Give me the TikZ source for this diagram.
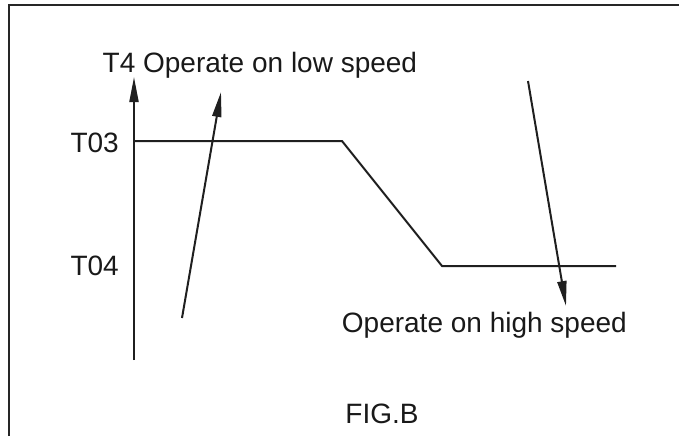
\documentclass[tikz,border=0pt]{standalone}
\usepackage{fontspec}
\setmainfont{Liberation Sans}
\usetikzlibrary{arrows.meta}
\begin{document}
\begin{tikzpicture}[x=1pt,y=-1pt,
  lbl/.style={inner sep=0pt,font=\fontsize{28}{30}\selectfont,text=black!90},
  ln/.style={line width=2pt,draw=black!88},
  arr/.style={ln,-{Triangle[length=25pt,width=9pt]}}]
\useasboundingbox (0,0) rectangle (679,436);
% frame (cropped)
\coordinate (fTL) at (9,5);
\coordinate (fTR) at (679,5);
\coordinate (fBL) at (9,436);
\draw[line width=2pt,draw=black!85] (fBL) -- (fTL) -- (fTR);
% axis
\coordinate (ax0) at (134,360);
\coordinate (ax1) at (134,77);
\draw[arr] (ax0) -- (ax1);
% curve
\coordinate (c1) at (134,141);
\coordinate (c2) at (342,141);
\coordinate (c3) at (442,266);
\coordinate (c4) at (616,266);
\draw[ln,line join=miter] (c1) -- (c2) -- (c3) -- (c4);
% pointer arrows
\coordinate (p1s) at (182,318);
\coordinate (p1e) at (221,92);
\draw[arr] (p1s) -- (p1e);
\coordinate (p2s) at (528,81);
\coordinate (p2e) at (566,306);
\draw[arr] (p2s) -- (p2e);
% labels
\node[lbl,anchor=base west] (low) at (102.5,72.7) {T4 Operate on low speed};
\node[lbl,anchor=base east] (t03) at (119,152) {T03};
\node[lbl,anchor=base east] (t04) at (119,275.5) {T04};
\node[lbl,anchor=base east] (high) at (627,332) {Operate on high speed};
\node[lbl,anchor=base] (fig) at (382,423) {FIG.B};
\end{tikzpicture}
\end{document}
